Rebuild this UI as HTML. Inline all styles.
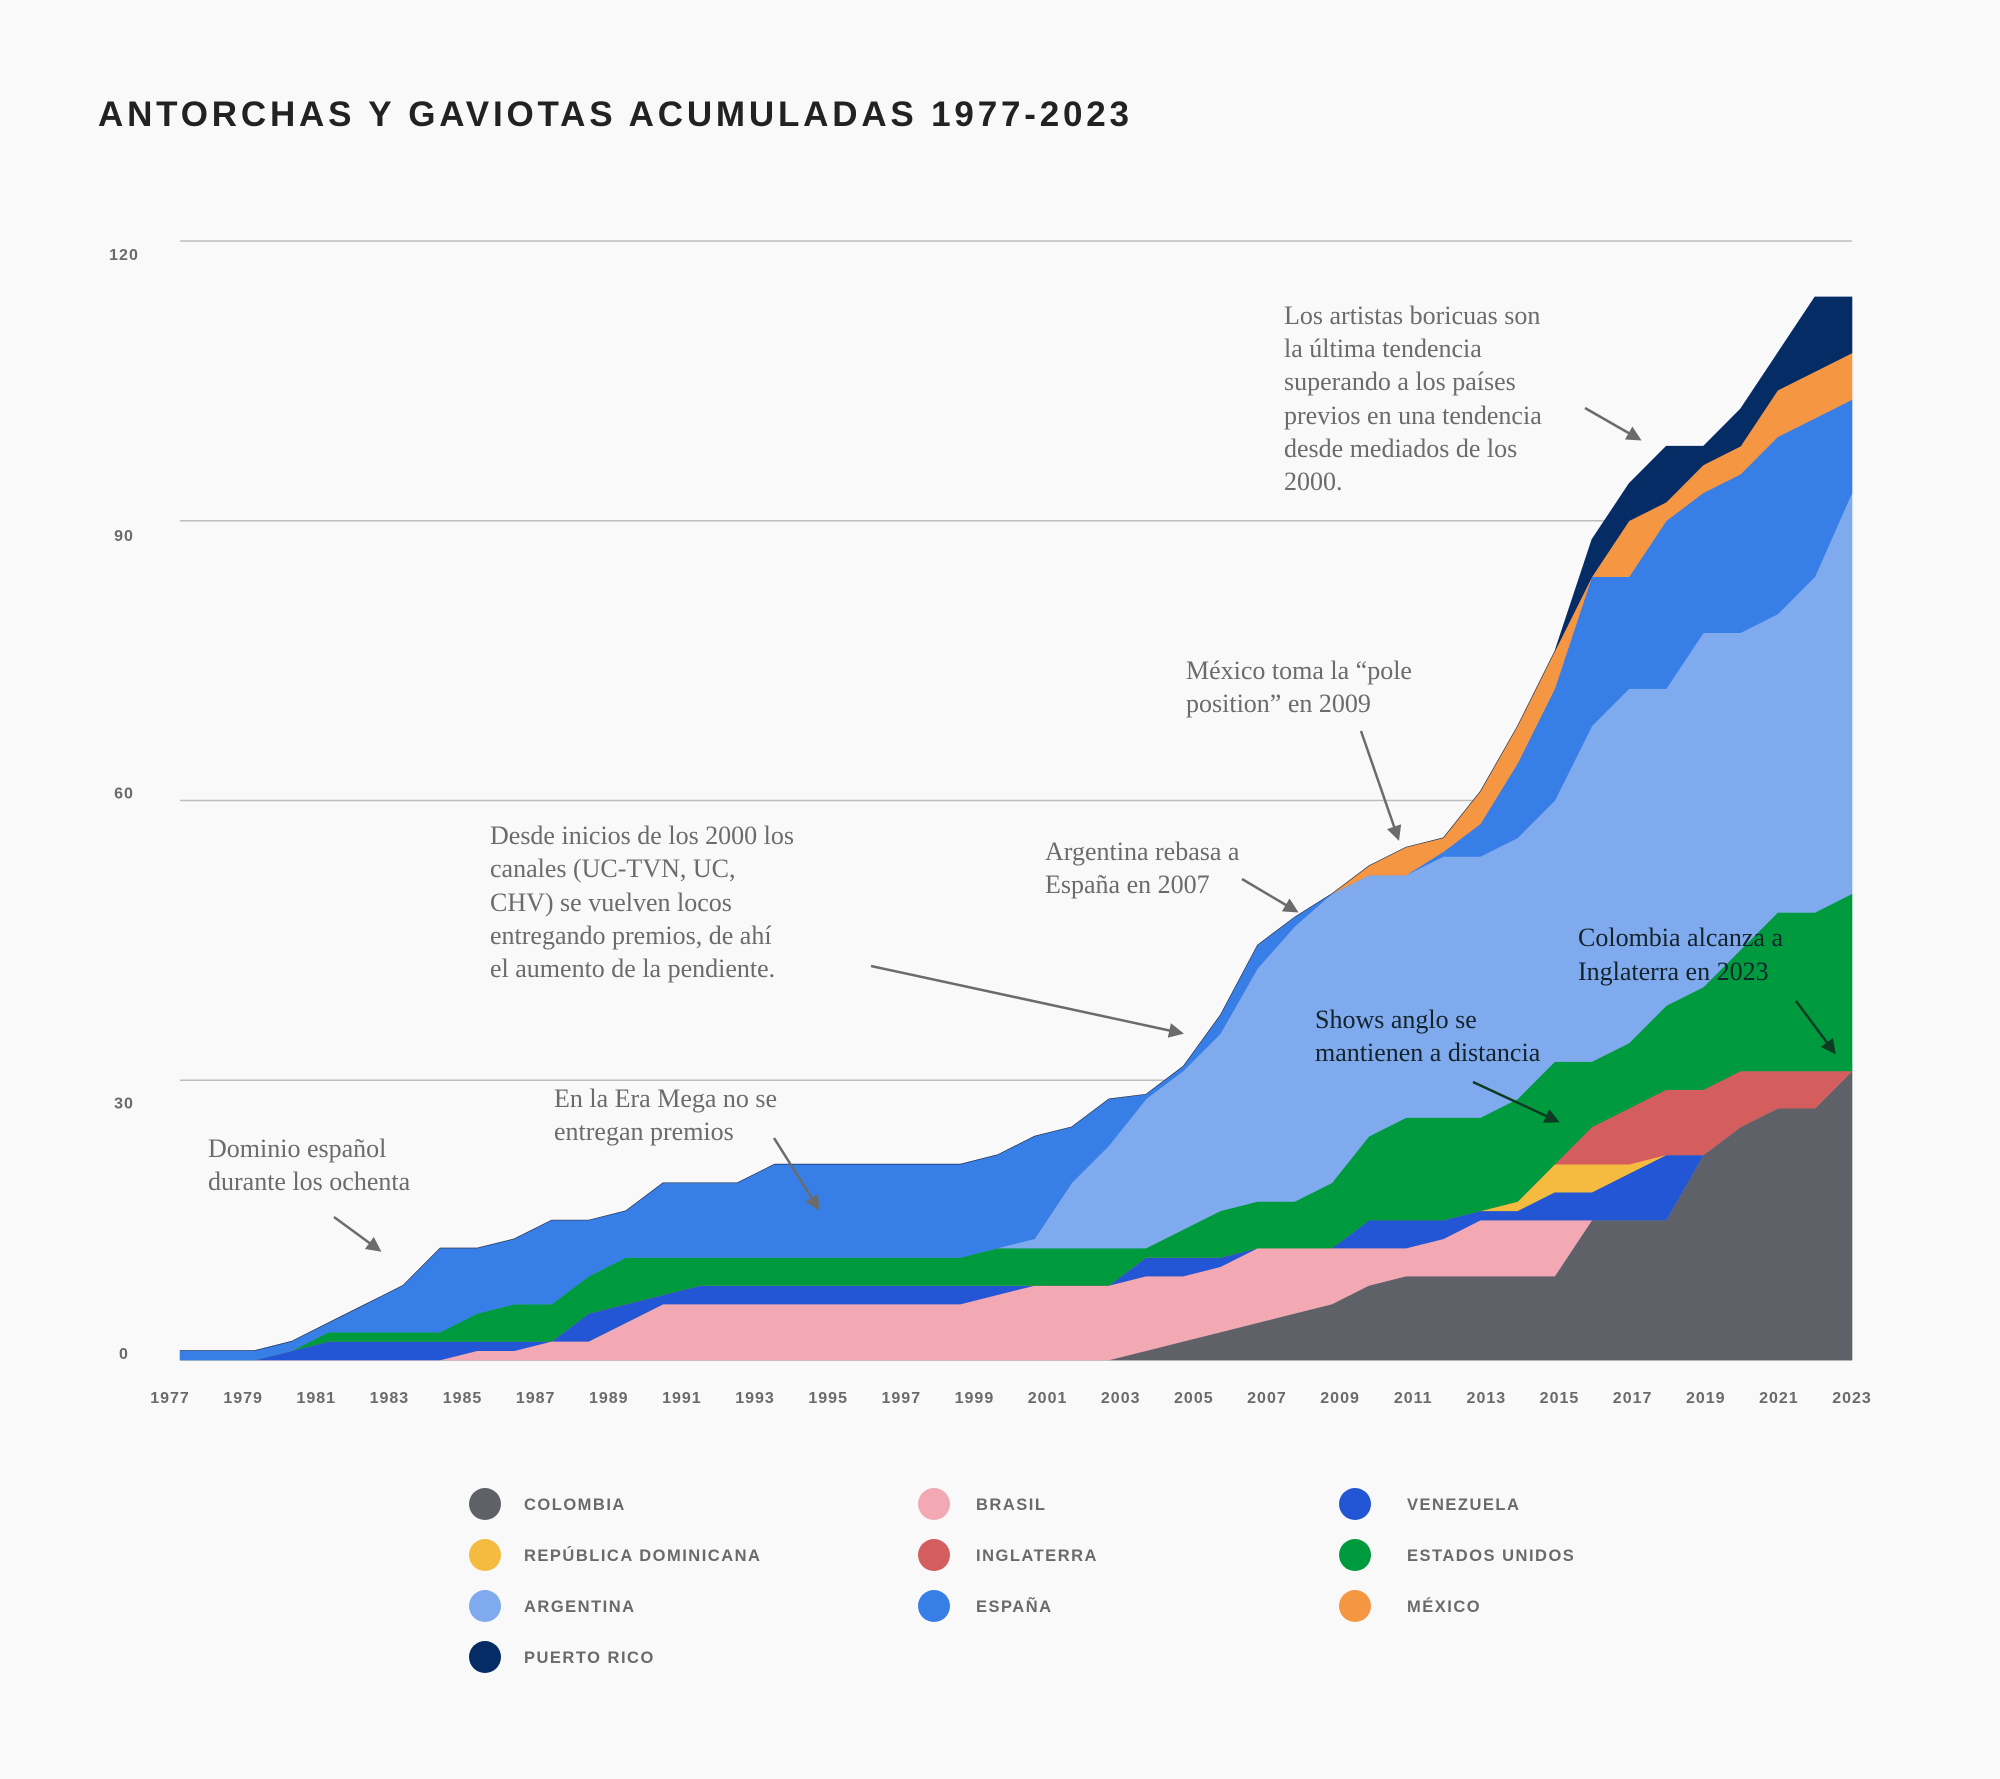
<!DOCTYPE html>
<html lang="es">
<head>
<meta charset="utf-8">
<title>Antorchas y Gaviotas acumuladas 1977-2023</title>
<style>
  html,body{margin:0;padding:0;background:#f9f9f9;}
  svg{display:block;}
  .ann{font-family:"Liberation Serif",serif;font-size:26px;fill:#6b6b6b;}
  .ann-dark{font-family:"Liberation Serif",serif;font-size:26px;fill:#13232a;}
  .tick{font-family:"Liberation Sans",sans-serif;font-size:16px;font-weight:bold;fill:#6a6a6a;letter-spacing:1px;}
  .leg{font-family:"Liberation Sans",sans-serif;font-size:16.5px;font-weight:bold;fill:#6a6a6a;letter-spacing:1.5px;}
</style>
</head>
<body>
<svg id="chart" width="2000" height="1779" viewBox="0 0 2000 1779" xmlns="http://www.w3.org/2000/svg">
  <defs>
    <marker id="ah" viewBox="0 0 10 10" refX="8" refY="5" markerWidth="6" markerHeight="6" orient="auto-start-reverse">
      <path d="M0,0 L10,5 L0,10 z" fill="#6b6b6b"/>
    </marker>
    <marker id="ahd" viewBox="0 0 10 10" refX="8" refY="5" markerWidth="6" markerHeight="6" orient="auto-start-reverse">
      <path d="M0,0 L10,5 L0,10 z" fill="#0d3a22"/>
    </marker>
  </defs>
  <rect x="0" y="0" width="2000" height="1779" fill="#f9f9f9"/>
  <text x="98" y="126" font-family="Liberation Sans, sans-serif" font-weight="bold" font-size="35" fill="#222" letter-spacing="3" textLength="1034" lengthAdjust="spacing">ANTORCHAS Y GAVIOTAS ACUMULADAS 1977-2023</text>
  <g id="grid"></g>
  <g id="yticks"></g>
  <g id="areas"></g>
  <g id="xticks"></g>

  <g>
    <text class="ann" x="1284" y="324">Los artistas boricuas son</text>
    <text class="ann" x="1284" y="357">la última tendencia</text>
    <text class="ann" x="1284" y="390">superando a los países</text>
    <text class="ann" x="1284" y="424">previos en una tendencia</text>
    <text class="ann" x="1284" y="457">desde mediados de los</text>
    <text class="ann" x="1284" y="490">2000.</text>
    <line x1="1585" y1="408" x2="1639" y2="439" stroke="#6b6b6b" stroke-width="2.5" marker-end="url(#ah)"/>
  </g>
  <g>
    <text class="ann" x="1186" y="679">México toma la “pole</text>
    <text class="ann" x="1186" y="712">position” en 2009</text>
    <line x1="1361" y1="731" x2="1398" y2="838" stroke="#6b6b6b" stroke-width="2.5" marker-end="url(#ah)"/>
  </g>
  <g>
    <text class="ann" x="490" y="844">Desde inicios de los 2000 los</text>
    <text class="ann" x="490" y="877">canales (UC-TVN, UC,</text>
    <text class="ann" x="490" y="911">CHV) se vuelven locos</text>
    <text class="ann" x="490" y="944">entregando premios, de ahí</text>
    <text class="ann" x="490" y="977">el aumento de la pendiente.</text>
    <line x1="871" y1="966" x2="1181" y2="1033" stroke="#6b6b6b" stroke-width="2.5" marker-end="url(#ah)"/>
  </g>
  <g>
    <text class="ann" x="1045" y="860">Argentina rebasa a</text>
    <text class="ann" x="1045" y="893">España en 2007</text>
    <line x1="1242" y1="879" x2="1296" y2="911" stroke="#6b6b6b" stroke-width="2.5" marker-end="url(#ah)"/>
  </g>
  <g>
    <text class="ann-dark" x="1578" y="946">Colombia alcanza a</text>
    <text class="ann-dark" x="1578" y="980">Inglaterra en 2023</text>
    <line x1="1796" y1="1001" x2="1834" y2="1052" stroke="#0d3a22" stroke-width="2.5" marker-end="url(#ahd)"/>
  </g>
  <g>
    <text class="ann-dark" x="1315" y="1028">Shows anglo se</text>
    <text class="ann-dark" x="1315" y="1061">mantienen a distancia</text>
    <line x1="1473" y1="1082" x2="1557" y2="1121" stroke="#0d3a22" stroke-width="2.5" marker-end="url(#ahd)"/>
  </g>
  <g>
    <text class="ann" x="554" y="1107">En la Era Mega no se</text>
    <text class="ann" x="554" y="1140">entregan premios</text>
    <line x1="774" y1="1138" x2="818" y2="1208" stroke="#6b6b6b" stroke-width="2.5" marker-end="url(#ah)"/>
  </g>
  <g>
    <text class="ann" x="208" y="1157">Dominio español</text>
    <text class="ann" x="208" y="1190">durante los ochenta</text>
    <line x1="334" y1="1217" x2="379" y2="1250" stroke="#6b6b6b" stroke-width="2.5" marker-end="url(#ah)"/>
  </g>

  <g id="legend"></g>
</svg>
<script>
const years = [];
for (let y = 1978; y <= 2023; y++) years.push(y);
const tickLabels = ["1977","1979","1981","1983","1985","1987","1989","1991","1993","1995","1997","1999","2001","2003","2005","2007","2009","2011","2013","2015","2017","2019","2021","2023"];
const yTicks = [0, 30, 60, 90, 120];
const countries = ["Colombia","Brasil","Venezuela","República Dominicana","Inglaterra","Estados Unidos","Argentina","España","México","Puerto Rico"];
const colors = ["#5f6169","#f2a9b4","#2356d4","#f5bb40","#d45d5d","#009a3e","#80aaee","#377ee6","#f59643","#052c65"];

const colombia = [0,0,0,0,0,0,0,0,0,0,0,0,0,0,0,0,0,0,0,0,0,0,0,0,0,0,
  1,2,3,4,5,6,8,9,9,9,9,9,15,15,15,22,25,27,27,31];
const brasil = [0,0,0,0,0,0,0,0, 1,1,2,2,4,6, 6,6,6,6,6,6,6,6,
  7,8,8,8,8,7,7,8,7,6, 4,3,4,6,6,6,0, 0,0,0,0,0,0,0];
const venezuela = [0,0,0,1,2,2,2,2,1,1,0,3,2,1, 2,2,2,2,2,2,2,2,
  1,0,0,0,2,2,1,0,0,0, 3,3,2,1,1,3,3,5,7,0, 0,0,0,0];
const republicaDominicana = [0,0,0,0,0,0,0,0,0,0,0,0,0,0,0,0,0,0,0,0,0,0,0,0,0,0,0,0,0,0,0,0,0,0,0,0,
  1,3,3,1,0,0,0,0,0,0];
const inglaterra = [0,0,0,0,0,0,0,0,0,0,0,0,0,0,0,0,0,0,0,0,0,0,0,0,0,0,0,0,0,0,0,0,0,0,0,0,0,0,
  4,6,7,7,6,4,4,0];
const estadosUnidos = [0,0,0,0,1,1,1,1,3,4,4,4,5,4, 3,3,3,3,3,3,3,3,
  4,4,4,4,1,3,5,5,5,7, 9,11,11,10,11,11,7,7,9,11, 13,17,17,19];
const argentina = [0,0,0,0,0,0,0,0,0,0,0,0,0,0,0,0,0,0,0,0,0,0,0,
  1,7,11,16,17,19,25,29.5,31,28,26,28,28,28,28,36,38,34,38,34,32,36,43];
const espana = [1,1,1,1,1,3,5,9,7,7,9,6,5,8, 8,8,10,10,10,10,10,10,
  10,11,6,5,0.5,0.5,2,2.5,1,0, 0,0,0.5,3.5,8,12,16,12,18,15,17,19,17,10];
const mexico = [0,0,0,0,0,0,0,0,0,0,0,0,0,0,0,0,0,0,0,0,0,0,0,0,0,0,0,0,0,0,0,0,
  1,3,1.5,3.5,4,4,0,6,2,3,3,5,5,5];
const puertoRico = [0,0,0,0,0,0,0,0,0,0,0,0,0,0,0,0,0,0,0,0,0,0,0,0,0,0,0,0,0,0,0,0,0,0,0,0,0,0,
  4,4,6,2,4,4,8,6];

const series = [colombia, brasil, venezuela, republicaDominicana, inglaterra, estadosUnidos, argentina, espana, mexico, puertoRico];
const layerNames = ["area-colombia","area-brasil","area-venezuela","area-republica-dominicana","area-inglaterra","area-estados-unidos","area-argentina","area-espana","area-mexico","area-puerto-rico"];
const legendNames = ["legend-colombia","legend-brasil","legend-venezuela","legend-republica-dominicana","legend-inglaterra","legend-estados-unidos","legend-argentina","legend-espana","legend-mexico","legend-puerto-rico"];

const NS = "http://www.w3.org/2000/svg";
const X0 = 180, X1 = 1852, Y0 = 1360, YMAX = 120, YTOP = 241;
function xScale(i) { return X0 + i * (X1 - X0) / (years.length - 1); }
function yScale(v) { return Y0 - v * (Y0 - YTOP) / YMAX; }

const grid = document.getElementById("grid");
const yt = document.getElementById("yticks");
const yLabelOffset = {0:-7, 30:22, 60:-8, 90:14, 120:13};
yTicks.forEach(v => {
  const l = document.createElementNS(NS, "line");
  l.setAttribute("x1", X0); l.setAttribute("x2", X1);
  l.setAttribute("y1", yScale(v)); l.setAttribute("y2", yScale(v));
  l.setAttribute("stroke", "#bdbdbd"); l.setAttribute("stroke-width", "1.6");
  
  
  grid.appendChild(l);
  const t = document.createElementNS(NS, "text");
  t.setAttribute("x", 124); t.setAttribute("y", yScale(v) + (yLabelOffset[v] || 0) + 6);
  t.setAttribute("text-anchor", "middle"); t.setAttribute("class", "tick");
  t.textContent = String(v);
  
  
  yt.appendChild(t);
});

const xt = document.getElementById("xticks");
tickLabels.forEach((lab, i) => {
  const t = document.createElementNS(NS, "text");
  t.setAttribute("x", 170 + i * (1852 - 170) / (tickLabels.length - 1));
  t.setAttribute("y", 1403);
  t.setAttribute("text-anchor", "middle"); t.setAttribute("class", "tick");
  t.textContent = lab;
  
  
  xt.appendChild(t);
});

const areas = document.getElementById("areas");
let base = years.map(() => 0);
series.forEach((s, si) => {
  const top = base.map((b, i) => b + s[i]);
  let d = "";
  top.forEach((v, i) => { d += (i ? "L" : "M") + xScale(i).toFixed(2) + "," + yScale(v).toFixed(2); });
  for (let i = base.length - 1; i >= 0; i--) d += "L" + xScale(i).toFixed(2) + "," + yScale(base[i]).toFixed(2);
  d += "Z";
  const p = document.createElementNS(NS, "path");
  p.setAttribute("d", d);
  p.setAttribute("fill", colors[si]);
  p.setAttribute("stroke", colors[si]);
  p.setAttribute("stroke-width", "0.6");
  
  
  areas.appendChild(p);
  base = top;
});

const legend = document.getElementById("legend");
const colX = [485, 934, 1355];
const textX = [524, 976, 1407];
const rowY = [1504, 1555, 1606, 1657];
countries.forEach((c, i) => {
  const col = i % 3, row = Math.floor(i / 3);
  const g = document.createElementNS(NS, "g");
  
  
  const circ = document.createElementNS(NS, "circle");
  circ.setAttribute("cx", colX[col]); circ.setAttribute("cy", rowY[row]); circ.setAttribute("r", 16);
  circ.setAttribute("fill", colors[i]);
  
  
  const t = document.createElementNS(NS, "text");
  t.setAttribute("x", textX[col]); t.setAttribute("y", rowY[row] + 6);
  t.setAttribute("class", "leg");
  t.textContent = c.toUpperCase();
  
  
  g.appendChild(circ); g.appendChild(t);
  legend.appendChild(g);
});
</script>
</body>
</html>
